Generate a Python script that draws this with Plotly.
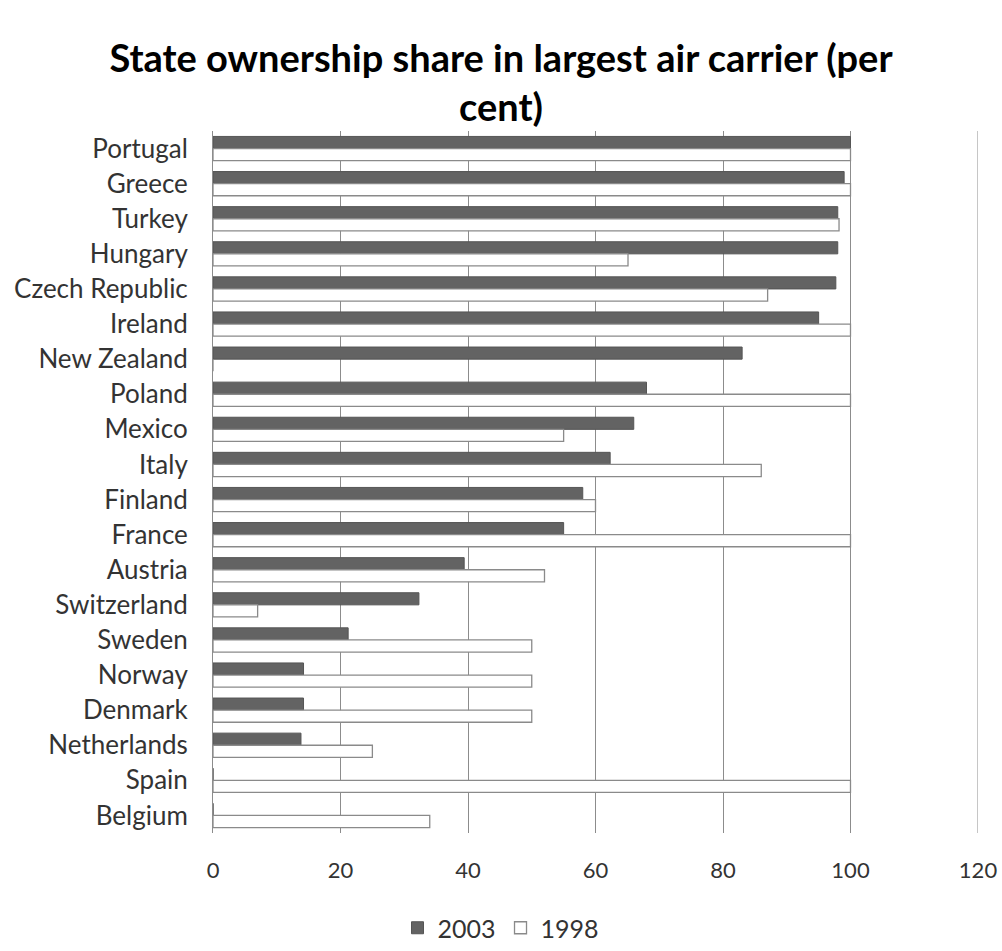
import plotly.graph_objects as go

countries = ["Portugal", "Greece", "Turkey", "Hungary", "Czech Republic", "Ireland",
             "New Zealand", "Poland", "Mexico", "Italy", "Finland", "France", "Austria",
             "Switzerland", "Sweden", "Norway", "Denmark", "Netherlands", "Spain", "Belgium"]
share_2003 = [100, 99, 98, 98, 97.7, 95, 83, 68, 66, 62.3, 58, 55, 39.4, 32.3, 21.2,
              14.2, 14.2, 13.8, 0, 0]
share_1998 = [100, 100, 98.2, 65.1, 87, 100, 0, 100, 55, 86, 60, 100, 52, 7, 50,
              50, 50, 25, 100, 34]
x_ticks = [0, 20, 40, 60, 80, 100, 120]
x_max = 120

FONT = "Lato, Carlito, Calibri, sans-serif"
GRID = "#8c8c8c"

fig = go.Figure()
fig.add_trace(go.Bar(
    y=countries, x=share_2003, name="2003", orientation="h",
    marker=dict(color="#636363", line=dict(color="#555555", width=1)),
))
fig.add_trace(go.Bar(
    y=countries, x=share_1998, name="1998", orientation="h",
    marker=dict(color="#ffffff", line=dict(color="#8a8a8a", width=1.3)),
))

# gridline at the right edge of the axis range
fig.add_shape(type="line", xref="x", yref="paper", x0=x_max, x1=x_max, y0=0, y1=1,
              line=dict(color=GRID, width=1), layer="below")

fig.update_layout(
    width=1002, height=951,
    margin=dict(l=213, r=24, t=131, b=118, autoexpand=False),
    paper_bgcolor="white", plot_bgcolor="white",
    barmode="group", bargap=0.31, bargroupgap=0.0,
    title=dict(text="<b>State ownership share in largest air carrier (per<br>cent)</b>",
               x=0.5, xanchor="center", yref="container", y=0.9245, yanchor="top",
               font=dict(family=FONT, size=38, color="#000000")),
    font=dict(family=FONT, color="#333333"),
    legend=dict(orientation="h", xref="container", x=0.5, xanchor="center",
                yref="container", y=-0.004, yanchor="bottom",
                font=dict(family=FONT, size=25, color="#333333"),
                traceorder="normal", itemwidth=30),
    xaxis=dict(range=[0, x_max], tickvals=x_ticks, showgrid=True, gridcolor=GRID,
               gridwidth=1, zeroline=False, showline=False, automargin=False,
               tickfont=dict(family=FONT, size=22, color="#333333"),
               ticklabelstandoff=22, fixedrange=True),
    yaxis=dict(autorange="reversed", showline=True, linecolor=GRID, linewidth=1,
               automargin=False,
               tickfont=dict(family=FONT, size=26, color="#333333"),
               ticklabelstandoff=19, showgrid=False),
)

fig.write_html("out.html")
